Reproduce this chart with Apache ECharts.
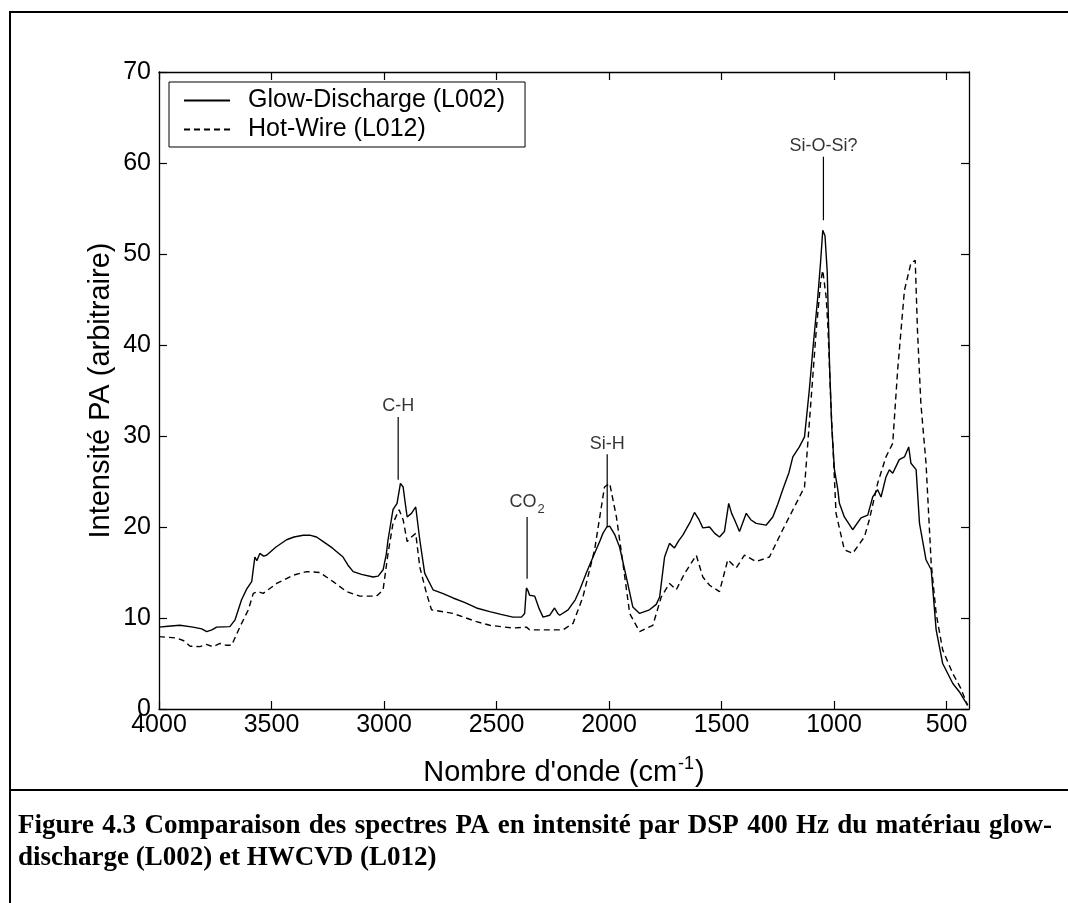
<!DOCTYPE html>
<html><head><meta charset="utf-8">
<script src="https://cdn.jsdelivr.net/npm/echarts@6/dist/echarts.min.js"></script>
<style>html,body{margin:0;padding:0;background:#fff}#c{width:1068px;height:903px}</style>
</head><body><div id="c"></div><script>
const glowWn=[4000,3960,3907,3849,3810,3788,3765,3744,3685,3662,3633,3610,3588,3574,3565,3552,3535,3522,3480,3433,3400,3359,3330,3300,3270,3230,3182,3160,3137,3100,3048,3026,3004,2990,2982,2960,2942,2927,2915,2905,2897,2878,2859,2841,2819,2782,2740,2693,2640,2589,2530,2480,2427,2389,2375,2367,2360,2353,2330,2310,2293,2264,2242,2228,2219,2182,2150,2130,2100,2071,2040,2027,2010,1997,1975,1953,1923,1894,1864,1820,1790,1775,1753,1731,1709,1690,1672,1640,1620,1600,1583,1553,1530,1509,1487,1468,1455,1442,1420,1390,1370,1346,1302,1272,1250,1228,1200,1183,1154,1131,1110,1094,1072,1060,1050,1040,1030,1020,1010,998,983,976,954,917,880,850,828,806,791,769,754,739,710,687,668,658,635,620,591,568,546,517,472,443,406];
const glowVal=[9.0,9.1,9.2,9.0,8.8,8.5,8.7,9.0,9.05,9.8,12.0,13.2,14.0,16.7,16.3,17.1,16.8,16.9,17.8,18.6,18.9,19.1,19.1,18.9,18.4,17.7,16.7,15.8,15.1,14.8,14.5,14.6,15.3,17.0,18.6,21.9,22.6,24.8,24.4,22.5,21.1,21.5,22.2,18.6,14.9,13.1,12.7,12.2,11.7,11.1,10.7,10.4,10.1,10.1,10.5,13.3,13.0,12.5,12.4,11.0,10.1,10.3,11.1,10.5,10.3,10.9,12.0,13.1,15.0,16.7,18.5,19.3,20.0,20.1,19.2,17.8,14.5,11.2,10.5,10.9,11.5,12.3,16.7,18.2,17.7,18.5,19.1,20.5,21.6,20.8,19.9,20.0,19.3,18.9,19.5,22.6,21.5,20.8,19.5,21.5,20.8,20.4,20.2,21.1,22.5,24.1,26.0,27.7,28.8,29.9,35.0,39.5,45.3,49.0,52.6,52.0,48.0,38.0,31.0,26.3,24.1,22.6,21.1,19.7,21.0,21.3,23.3,24.1,23.3,25.5,26.3,25.9,27.4,27.7,28.8,27.0,26.3,20.4,16.4,15.3,8.7,5.0,2.8,1.9,0.4];
const hotWn=[4000,3921,3890,3862,3818,3790,3760,3729,3700,3677,3640,3603,3581,3560,3537,3477,3404,3344,3285,3226,3166,3107,3033,3004,2982,2960,2933,2915,2897,2878,2859,2841,2811,2789,2693,2589,2530,2428,2367,2360,2353,2204,2160,2116,2064,2020,1997,1967,1938,1908,1864,1805,1768,1731,1701,1664,1612,1583,1553,1509,1472,1435,1398,1346,1287,1228,1168,1131,1101,1079,1059,1050,1035,1027,1013,1005,991,954,917,865,843,806,769,739,717,687,658,639,629,614,591,568,546,517,472,437,406];
const hotVal=[7.95,7.8,7.5,6.9,6.85,7.1,6.85,7.2,7.0,7.0,9.05,10.9,12.7,12.9,12.7,13.8,14.7,15.1,15.0,14.0,12.9,12.4,12.4,13.1,17.1,20.4,21.9,20.8,18.4,18.9,19.3,15.6,12.7,10.9,10.5,9.6,9.2,8.9,9.0,9.2,8.7,8.7,9.4,12.3,17.5,24.4,24.8,21.1,16.0,10.5,8.5,9.2,12.3,13.8,13.1,14.9,16.9,14.5,13.6,12.9,16.4,15.5,16.9,16.2,16.7,19.7,22.6,24.4,34.3,41.6,47.0,48.2,45.3,42.0,33.0,29.0,21.5,17.5,17.1,18.9,20.8,24.8,27.7,29.2,37.3,46.0,49.0,49.3,41.6,33.6,27.0,16.0,10.5,6.5,3.9,2.3,0.4];
const seriesNames=['Glow-Discharge (L002)','Hot-Wire (L012)'];
const xTicks=[500,1000,1500,2000,2500,3000,3500,4000];
const annoWn=[2937,2364,2008,1047];
const annoBottom=[25.2,14.3,20.0,53.7];
const annoTop=[32.1,21.1,28.0,60.7];
const annoLabel=['C-H','{a|CO}{s|2}','Si-H','Si-O-Si?'];
const captionLines=['Figure 4.3 Comparaison des spectres PA en intensité par DSP 400 Hz du matériau glow-','discharge (L002) et HWCVD (L012)'];

const FONT='"Liberation Sans", Arial, sans-serif';
const CAPFONT='bold 27px "Liberation Serif", "Times New Roman", serif';
const pairs=(a,b)=>a.map((x,i)=>[x,b[i]]);
const series=[
 {name:seriesNames[0],type:'line',data:pairs(glowWn,glowVal),symbol:'none',lineStyle:{color:'#000',width:1.4,type:'solid'},itemStyle:{color:'#000'},z:3},
 {name:seriesNames[1],type:'line',data:pairs(hotWn,hotVal),symbol:'none',lineStyle:{color:'#000',width:1.4,type:[6,4]},itemStyle:{color:'#000'},z:3}
];
annoWn.forEach((w,i)=>{
 series.push({type:'line',data:[[w,annoBottom[i]],[w,annoTop[i]]],symbol:'none',lineStyle:{color:'#000',width:1.2},silent:true,z:2});
});
series.push({type:'scatter',data:annoWn.map((w,i)=>[w,annoTop[i]]),symbolSize:1,itemStyle:{color:'rgba(0,0,0,0)'},silent:true,
 label:{show:true,position:'top',distance:1,color:'#000',fontFamily:FONT,fontSize:18,
  formatter:p=>annoLabel[p.dataIndex],
  rich:{a:{fontSize:18,fontFamily:FONT,color:'#000',verticalAlign:'top'},s:{fontSize:13,fontFamily:FONT,color:'#000',padding:[9,0,0,1]}}}});

// caption layout (first line justified)
const CAP_L=18, CAP_R=1052;
const ctx=document.createElement('canvas').getContext('2d');
ctx.font=CAPFONT;
const graphics=[
 {type:'rect',shape:{x:10,y:12,width:1075,height:900},style:{fill:'none',stroke:'#000',lineWidth:2},silent:true,z:-1},
 {type:'line',shape:{x1:10,y1:790,x2:1068,y2:790},style:{stroke:'#000',lineWidth:2},silent:true}
];
const words=captionLines[0].split(' ');
const ww=words.map(w=>ctx.measureText(w).width);
const gap=(CAP_R-CAP_L-ww.reduce((a,b)=>a+b,0))/(words.length-1);
let cx=CAP_L;
words.forEach((w,i)=>{
 graphics.push({type:'text',x:cx,y:826,style:{text:w,font:CAPFONT,fill:'#000',verticalAlign:'middle'},silent:true});
 cx+=ww[i]+gap;
});
graphics.push({type:'text',x:CAP_L,y:858,style:{text:captionLines[1],font:CAPFONT,fill:'#000',verticalAlign:'middle'},silent:true});

const chart=echarts.init(document.getElementById('c'));
chart.setOption({
 animation:false,
 backgroundColor:'#fff',
 grid:{left:159,right:99,top:72,bottom:194},
 legend:{data:seriesNames,orient:'vertical',left:169,top:82,itemWidth:46,itemHeight:25,itemGap:4,selectedMode:false,
  itemStyle:{opacity:0,borderWidth:0},
  textStyle:{fontSize:25,fontFamily:FONT,color:'#000',padding:[0,0,0,13]},borderColor:'#000',borderWidth:1,padding:[6,20,5,14],backgroundColor:'#fff'},
 xAxis:[
  {type:'value',min:400,max:4000,inverse:true,position:'bottom',
   axisLine:{onZero:false,lineStyle:{color:'#000',width:1.3}},
   axisTick:{inside:true,length:8,customValues:xTicks,lineStyle:{color:'#000',width:1.2}},
   axisLabel:{customValues:xTicks,color:'#000',fontSize:25,fontFamily:FONT,margin:4,formatter:v=>String(v)},
   splitLine:{show:false},
   name:"{n|Nombre d'onde (cm}{sup|-1}{n|)}",nameLocation:'middle',nameGap:46,nameMoveOverlap:false,
   nameTextStyle:{color:'#000',fontFamily:FONT,fontSize:29,rich:{n:{fontSize:29,fontFamily:FONT,color:'#000',verticalAlign:'bottom'},sup:{fontSize:18,fontFamily:FONT,color:'#000',padding:[0,1,14,1],verticalAlign:'bottom'}}}},
  {type:'value',min:400,max:4000,inverse:true,position:'top',
   axisLine:{onZero:false,lineStyle:{color:'#000',width:1.3}},
   axisTick:{inside:true,length:8,customValues:xTicks,lineStyle:{color:'#000',width:1.2}},
   axisLabel:{show:false},splitLine:{show:false}}
 ],
 yAxis:[
  {type:'value',min:0,max:70,interval:10,position:'left',
   axisLine:{show:true,onZero:false,lineStyle:{color:'#000',width:1.3}},
   axisTick:{show:true,inside:true,length:8,lineStyle:{color:'#000',width:1.2}},
   axisLabel:{color:'#000',fontSize:25,fontFamily:FONT,margin:8},
   splitLine:{show:false},
   name:'Intensité PA (arbitraire)',nameLocation:'middle',nameGap:44,nameRotate:90,nameMoveOverlap:false,
   nameTextStyle:{color:'#000',fontFamily:FONT,fontSize:29}},
  {type:'value',min:0,max:70,interval:10,position:'right',
   axisLine:{show:true,onZero:false,lineStyle:{color:'#000',width:1.3}},
   axisTick:{show:true,inside:true,length:8,lineStyle:{color:'#000',width:1.2}},
   axisLabel:{show:false},splitLine:{show:false}}
 ],
 series:series,
 graphic:graphics
});
</script></body></html>
